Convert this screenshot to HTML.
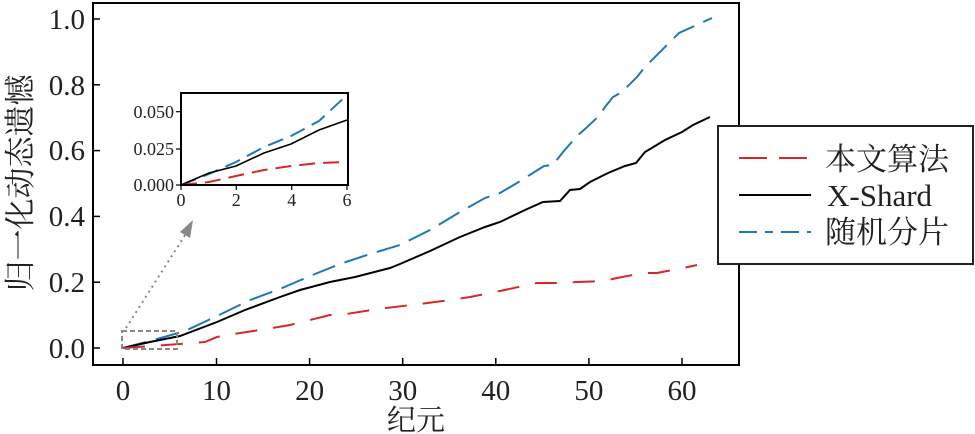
<!DOCTYPE html>
<html><head><meta charset="utf-8"><style>
html,body{margin:0;padding:0;background:#fff;}
svg{display:block;}
text{font-family:"Liberation Serif","Noto Serif CJK SC",serif;fill:#222;}
</style></head><body>
<svg width="975" height="434" viewBox="0 0 975 434" xmlns="http://www.w3.org/2000/svg">
<rect x="0" y="0" width="975" height="434" fill="#fff"/>
<g fill="none" stroke-width="2">
<polyline stroke="#1f77b4" stroke-dasharray="24 10" points="123,348 150,341 185,331 217,316 250,300 280,289 310,276 340,264 370,254 400,245 430,230 460,212 485,198 500,193 517,183 544,166 553,165 563,152 577,136 585,129 600,115 605,107 613,97 622,92 637,77 645,67 663,49 679,33 712,18"/>
<polyline stroke="#000" points="123,348 150,342 180,336 217,322 245,310 280,297 300,290 330,282 355,277 390,268 400,264 430,251 460,237 485,227 500,222 525,210 543,202 560,201 570,190 580,189 590,182 608,173 625,166 636,163 645,152 665,140 682,132 693,125 710,117"/>
<polyline stroke="#d62728" stroke-dasharray="22 16" points="123,348 180,344 205,342 217,337 240,333 260,330 290,325 330,315 340,315 378,309 420,304 450,300 470,297 500,291 523,286 537,283 563,283 577,282 603,281 617,278 643,273 657,273 683,268 697,265"/>
</g>
<rect x="93" y="3" width="646" height="362" fill="none" stroke="#000" stroke-width="2"/>
<g stroke="#000" stroke-width="1.5">
<line x1="123" y1="365" x2="123" y2="358"/><line x1="216.5" y1="365" x2="216.5" y2="358"/><line x1="309.6" y1="365" x2="309.6" y2="358"/><line x1="402.7" y1="365" x2="402.7" y2="358"/><line x1="495.8" y1="365" x2="495.8" y2="358"/><line x1="588.9" y1="365" x2="588.9" y2="358"/><line x1="682" y1="365" x2="682" y2="358"/>
<line x1="93" y1="348" x2="100" y2="348"/><line x1="93" y1="282.2" x2="100" y2="282.2"/><line x1="93" y1="216.4" x2="100" y2="216.4"/><line x1="93" y1="150.6" x2="100" y2="150.6"/><line x1="93" y1="84.8" x2="100" y2="84.8"/><line x1="93" y1="19" x2="100" y2="19"/>
</g>
<g font-size="29" text-anchor="middle">
<text x="123" y="400">0</text><text x="216.5" y="400">10</text><text x="309.6" y="400">20</text><text x="402.7" y="400">30</text><text x="495.8" y="400">40</text><text x="588.9" y="400">50</text><text x="682" y="400">60</text>
</g>
<g font-size="29" text-anchor="end">
<text x="85" y="358">0.0</text><text x="85" y="292">0.2</text><text x="85" y="226">0.4</text><text x="85" y="160">0.6</text><text x="85" y="95">0.8</text><text x="85" y="29">1.0</text>
</g>
<text x="416" y="430" font-size="29" text-anchor="middle">纪元</text>
<text transform="translate(31,183) rotate(-90)" font-size="31" text-anchor="middle">归一化动态遗憾</text>
<rect x="122" y="331" width="55" height="18" fill="none" stroke="#888" stroke-width="2" stroke-dasharray="5 3"/>
<line x1="126" y1="328" x2="187" y2="232" stroke="#888" stroke-width="2" stroke-dasharray="2 4"/>
<polygon points="193,220 180,232 190,238" fill="#888"/>
<rect x="181" y="93" width="167" height="92" fill="#fff"/>
<g fill="none" stroke-width="2">
<polyline stroke="#1f77b4" stroke-dasharray="16 8" points="181,185 209,174 236,162 264,147 291,136 319,121 347,95"/>
<polyline stroke="#000" stroke-width="1.6" points="181,185 209,173 236,166 264,153 291,144 319,130 347,120"/>
<polyline stroke="#d62728" stroke-dasharray="16 8" points="181,185 209,182 236,176 264,170 291,166 319,163 347,162"/>
</g>
<rect x="181" y="93" width="167" height="92" fill="none" stroke="#000" stroke-width="2"/>
<g stroke="#000" stroke-width="1.2">
<line x1="181" y1="185" x2="181" y2="190"/><line x1="236.3" y1="185" x2="236.3" y2="190"/><line x1="291.7" y1="185" x2="291.7" y2="190"/><line x1="347" y1="185" x2="347" y2="190"/>
<line x1="176" y1="185" x2="181" y2="185"/><line x1="176" y1="149" x2="181" y2="149"/><line x1="176" y1="111.7" x2="181" y2="111.7"/>
</g>
<g font-size="18" text-anchor="middle">
<text x="181" y="206">0</text><text x="236.3" y="206">2</text><text x="291.7" y="206">4</text><text x="347" y="206">6</text>
</g>
<g font-size="18" text-anchor="end">
<text x="174" y="191">0.000</text><text x="174" y="155">0.025</text><text x="174" y="118">0.050</text>
</g>
<rect x="718" y="126" width="255" height="138" fill="#fff" stroke="#222" stroke-width="2"/>
<line x1="739" y1="158" x2="808" y2="158" stroke="#d62728" stroke-width="2" stroke-dasharray="28 12"/>
<line x1="739" y1="195" x2="811" y2="195" stroke="#000" stroke-width="2"/>
<line x1="739" y1="232" x2="811" y2="232" stroke="#1f77b4" stroke-width="2" stroke-dasharray="18 8 8 8"/>
<g font-size="31">
<text x="825" y="170">本文算法</text>
<text x="827" y="206">X-Shard</text>
<text x="825" y="243">随机分片</text>
</g>
</svg>
</body></html>
